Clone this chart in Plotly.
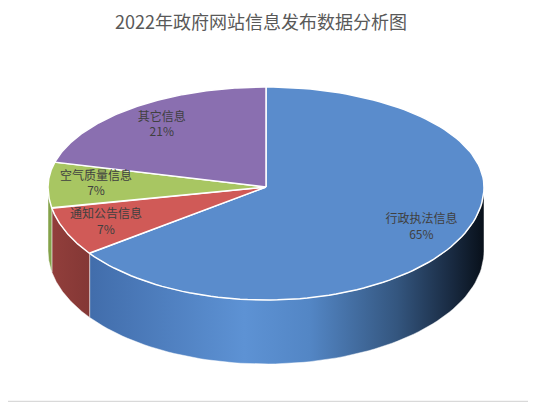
import numpy as np
import plotly.graph_objects as go

# data
categories = ["行政执法信息", "通知公告信息", "空气质量信息", "其它信息"]
values = [65, 7, 7, 21]

# colours (top face, side wall gradient)
top_colors = ["#5a8ccc", "#d05a57", "#a8c662", "#8a6fb0"]
side_scales = [
    [[0, "#3a63a0"], [0.45, "#5d92d4"], [0.6, "#5386c5"], [0.8, "#34567f"],
     [0.92, "#1a2c44"], [1, "#08101a"]],
    [[0, "#933f3c"], [0.15, "#7b3331"], [1, "#7b3331"]],
    [[0, "#84a24a"], [1, "#84a24a"]],
    [[0, "#6a5490"], [1, "#6a5490"]],
]

# geometry of the tilted pie, in page pixels
cx, cy = 266, 187
rx, ry_up, ry_down = 218, 100, 113
depth = 64
label_r = [0.8, 0.8, 0.78, 0.78]
W, H, OFF = 536, 402, 8   # page body has an 8px margin


def pt(theta, r=1.0, dy=0.0):
    t = np.radians(theta)
    ry = np.where(np.cos(t) > 0, ry_up, ry_down)
    return cx + r * rx * np.sin(t), cy - r * ry * np.cos(t) + dy


total = sum(values)
bounds = np.concatenate([[0], np.cumsum(values) / total * 360])

fig = go.Figure()

# side walls (front half only, 90..270 degrees)
for i in range(len(values)):
    a1, a2 = max(bounds[i], 90), min(bounds[i + 1], 270)
    if a2 <= a1:
        continue
    th = np.linspace(a1, a2, 80)
    xt, yt = pt(th)
    xb, yb = pt(th[::-1], dy=depth)
    fig.add_trace(go.Scatter(
        x=np.concatenate([xt, xb, xt[:1]]), y=np.concatenate([yt, yb, yt[:1]]),
        mode="lines", fill="toself", line=dict(color="rgba(255,255,255,0.6)", width=0.8),
        fillgradient=dict(type="horizontal", colorscale=side_scales[i],
                          start=cx - rx, stop=cx + rx),
        hoverinfo="skip", showlegend=False))

# top faces
for i in range(len(values)):
    th = np.linspace(bounds[i], bounds[i + 1], 120)
    xs, ys = pt(th)
    fig.add_trace(go.Scatter(
        x=np.concatenate([[cx], xs, [cx]]), y=np.concatenate([[cy], ys, [cy]]),
        mode="lines", fill="toself", fillcolor=top_colors[i],
        line=dict(color="white", width=1.5),
        hoverinfo="skip", showlegend=False))

# labels
mids = (bounds[:-1] + bounds[1:]) / 2
lx, ly = pt(mids, r=np.array(label_r))
fig.add_trace(go.Scatter(
    x=lx, y=ly, mode="text",
    text=[f"{c}<br>{round(v / total * 100)}%" for c, v in zip(categories, values)],
    textfont=dict(family="Noto Sans CJK SC", size=12, color="#404040"),
    hoverinfo="skip", showlegend=False))

fig.update_layout(
    width=W, height=H,
    margin=dict(l=0, r=0, t=0, b=0),
    paper_bgcolor="white", plot_bgcolor="white",
    xaxis=dict(range=[OFF, W + OFF], visible=False, fixedrange=True),
    yaxis=dict(range=[H + OFF, OFF], visible=False, fixedrange=True),
    annotations=[dict(
        text="2022年政府网站信息发布数据分析图", x=261, y=21, xref="x", yref="y",
        showarrow=False, font=dict(family="Noto Sans CJK SC", size=18, color="#595959"))],
    shapes=[dict(type="rect", xref="paper", yref="paper",
                 x0=-OFF / W, x1=(W - 0.5 - OFF) / W,
                 y0=1 - (H - 0.5 - OFF) / H, y1=1 + OFF / H,
                 line=dict(color="#d9d9d9", width=1.5))],
)

fig.write_html("out.html")
